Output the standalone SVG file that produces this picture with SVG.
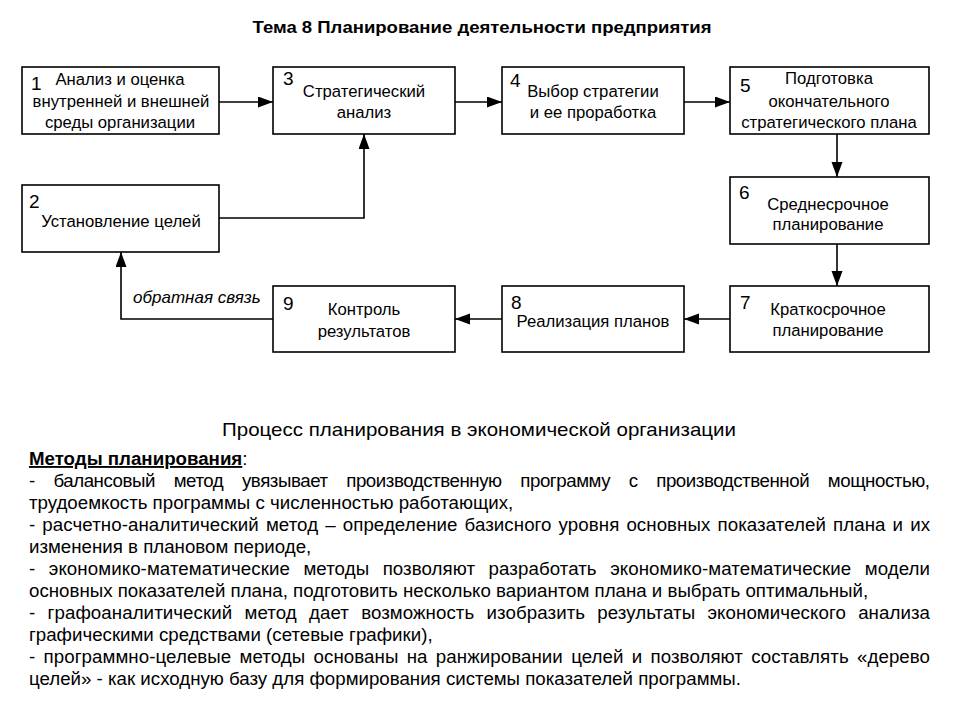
<svg xmlns="http://www.w3.org/2000/svg" width="960" height="720" viewBox="0 0 960 720">
<style>
.box{fill:#fff;stroke:#000;stroke-width:1.6}
.t{font-family:"Liberation Sans",Arial,sans-serif;font-size:16.7px;fill:#000;text-anchor:middle}
.n{font-family:"Liberation Sans",Arial,sans-serif;font-size:19px;fill:#000}
.c{fill:none;stroke:#000;stroke-width:1.6}
.b{font-family:"Liberation Sans",Arial,sans-serif;font-size:18.7px;fill:#000}
</style>
<defs>
<marker id="ah" markerUnits="userSpaceOnUse" markerWidth="16" markerHeight="12" refX="15" refY="5.5" orient="auto">
<path d="M0,0 L15,5.5 L0,11 z" fill="#000"/>
</marker>
</defs>
<rect width="960" height="720" fill="#fff"/>
<text x="482" y="33" font-family="'Liberation Sans',Arial,sans-serif" font-size="16.5" font-weight="bold" text-anchor="middle" textLength="459" lengthAdjust="spacingAndGlyphs">Тема 8 Планирование деятельности предприятия</text>

<g id="connectors">
<path class="c" d="M219,102 H273" marker-end="url(#ah)"/>
<path class="c" d="M455,102 H502" marker-end="url(#ah)"/>
<path class="c" d="M684,102 H730" marker-end="url(#ah)"/>
<path class="c" d="M837,134 V177" marker-end="url(#ah)"/>
<path class="c" d="M837,244 V286" marker-end="url(#ah)"/>
<path class="c" d="M730,319 H684" marker-end="url(#ah)"/>
<path class="c" d="M502,319 H455" marker-end="url(#ah)"/>
<path class="c" d="M273,319 H121 V252" marker-end="url(#ah)"/>
<path class="c" d="M219,218 H364 V134" marker-end="url(#ah)"/>
<text x="133" y="303" font-family="'Liberation Sans',Arial,sans-serif" font-size="17" font-style="italic">обратная связь</text>
</g>

<g id="node1">
<rect class="box" x="22" y="67" width="197" height="67"/>
<text class="n" x="31" y="90">1</text>
<text class="t" x="120" y="85">Анализ и оценка</text>
<text class="t" x="121" y="107">внутренней и внешней</text>
<text class="t" x="120" y="128">среды организации</text>
</g>
<g id="node2">
<rect class="box" x="22" y="185" width="197" height="67"/>
<text class="n" x="29" y="208">2</text>
<text class="t" x="121" y="227">Установление целей</text>
</g>
<g id="node3">
<rect class="box" x="273" y="67" width="182" height="67"/>
<text class="n" x="283" y="85">3</text>
<text class="t" x="364" y="97">Стратегический</text>
<text class="t" x="364" y="118">анализ</text>
</g>
<g id="node4">
<rect class="box" x="502" y="67" width="182" height="67"/>
<text class="n" x="510" y="87">4</text>
<text class="t" x="593" y="97">Выбор стратегии</text>
<text class="t" x="593" y="118">и ее проработка</text>
</g>
<g id="node5">
<rect class="box" x="730" y="67" width="199" height="67"/>
<text class="n" x="740" y="92">5</text>
<text class="t" x="829" y="84">Подготовка</text>
<text class="t" x="829" y="107">окончательного</text>
<text class="t" x="829" y="128">стратегического плана</text>
</g>
<g id="node6">
<rect class="box" x="730" y="177" width="199" height="67"/>
<text class="n" x="739" y="199">6</text>
<text class="t" x="828" y="210">Среднесрочное</text>
<text class="t" x="828" y="230">планирование</text>
</g>
<g id="node7">
<rect class="box" x="730" y="286" width="199" height="66"/>
<text class="n" x="740" y="309">7</text>
<text class="t" x="828" y="315">Краткосрочное</text>
<text class="t" x="828" y="336">планирование</text>
</g>
<g id="node8">
<rect class="box" x="502" y="286" width="182" height="66"/>
<text class="n" x="511" y="309">8</text>
<text class="t" x="593" y="327">Реализация планов</text>
</g>
<g id="node9">
<rect class="box" x="273" y="286" width="182" height="66"/>
<text class="n" x="283" y="310">9</text>
<text class="t" x="364" y="315">Контроль</text>
<text class="t" x="364" y="337">результатов</text>
</g>

<text x="479" y="436" font-family="'Liberation Sans',Arial,sans-serif" font-size="19" text-anchor="middle" textLength="514" lengthAdjust="spacingAndGlyphs">Процесс планирования в экономической организации</text>

<g id="methods">
<text class="b" x="29" y="465"><tspan font-weight="bold" text-decoration="underline">Методы планирования</tspan>:</text>
<text class="b" x="29" y="487" word-spacing="13.9" textLength="901" lengthAdjust="spacing">- балансовый метод увязывает производственную программу с производственной мощностью,</text>
<text class="b" x="29" y="509">трудоемкость программы с численностью работающих,</text>
<text class="b" x="29" y="531" word-spacing="1.8" textLength="901" lengthAdjust="spacing">- расчетно-аналитический метод – определение базисного уровня основных показателей плана и их</text>
<text class="b" x="29" y="553">изменения в плановом периоде,</text>
<text class="b" x="29" y="575" word-spacing="8.2" textLength="901" lengthAdjust="spacing">- экономико-математические методы позволяют разработать экономико-математические модели</text>
<text class="b" x="29" y="597">основных показателей плана, подготовить несколько вариантом плана и выбрать оптимальный,</text>
<text class="b" x="29" y="619" word-spacing="7" textLength="901" lengthAdjust="spacing">- графоаналитический метод дает возможность изобразить результаты экономического анализа</text>
<text class="b" x="29" y="641">графическими средствами (сетевые графики),</text>
<text class="b" x="29" y="663" word-spacing="3" textLength="901" lengthAdjust="spacing">- программно-целевые методы основаны на ранжировании целей и позволяют составлять «дерево</text>
<text class="b" x="29" y="685">целей» - как исходную базу для формирования системы показателей программы.</text>
</g>
</svg>
